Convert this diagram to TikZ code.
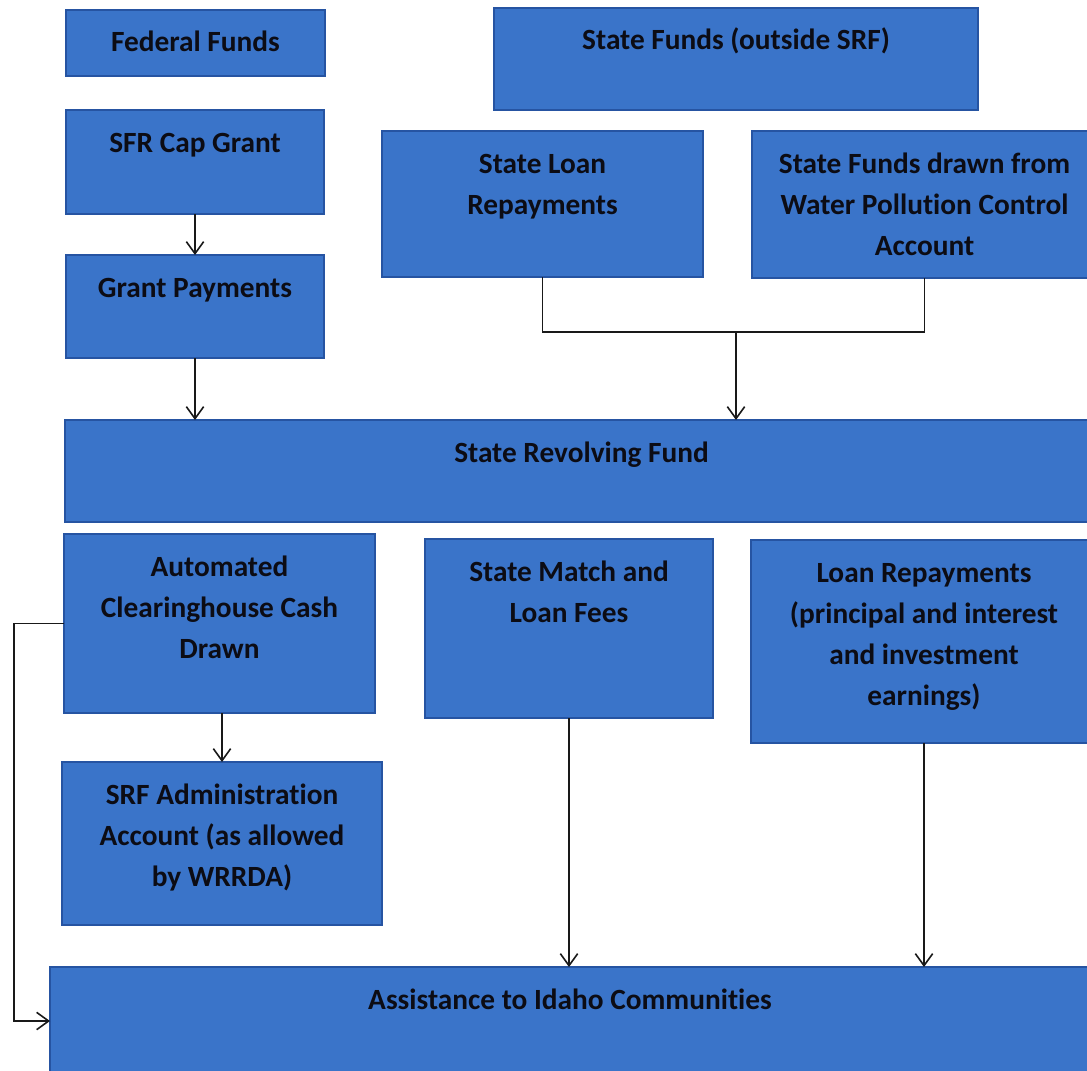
\documentclass[tikz,border=0pt]{standalone}
\usepackage{fontspec}
\setmainfont[Ligatures=NoCommon]{Carlito}
\usetikzlibrary{arrows.meta,fit,calc}
\definecolor{boxfill}{RGB}{58,116,201}
\definecolor{boxline}{RGB}{38,84,162}
\definecolor{txtcol}{RGB}{12,12,20}
\tikzset{
  fundbox/.style={fit={#1}, inner sep=0pt, outer sep=0pt, fill=boxfill, draw=boxline, line width=1.6pt},
  txt/.style={inner sep=0pt, anchor=base, text=txtcol, font=\fontsize{22}{30.75}\selectfont\bfseries},
  conn/.style={draw=black!90, line width=1.2pt},
  arr/.style={conn, -{Straight Barb[length=9pt,width=13pt,line width=1.2pt]}}
}
\newcommand{\lines}[1]{\parbox[t]{12cm}{\centering #1}}
\begin{document}
\begin{tikzpicture}[x=0.75pt,y=-0.75pt]
\useasboundingbox (0,0) rectangle (1087,1070);
\clip (0,0) rectangle (1087,1070);
\fill[white] (0,0) rectangle (1087,1070);
% boxes
\node[fundbox={(66,10)(325,76)}] (ff) {};
\node[fundbox={(66,110)(324,214)}] (cap) {};
\node[fundbox={(66,255)(324,358)}] (gp) {};
\node[fundbox={(494,8)(978,110)}] (sfo) {};
\node[fundbox={(382,131)(703,277)}] (slr) {};
\node[fundbox={(752,131)(1097,278)}] (sfd) {};
\node[fundbox={(65,420)(1098,522)}] (srf) {};
\node[fundbox={(64,534)(375,713)}] (ach) {};
\node[fundbox={(425,539)(713,718)}] (smf) {};
\node[fundbox={(751,540)(1097,743)}] (lr) {};
\node[fundbox={(62,762)(382,925)}] (adm) {};
\node[fundbox={(50,967)(1090,1075)}] (ass) {};
% texts
\node[txt] (ff-t) at ($(ff.north)+(0,42)$) {\lines{Federal Funds}};
\node[txt] (cap-t) at ($(cap.north)+(0,42)$) {\lines{SFR Cap Grant}};
\node[txt] (gp-t) at ($(gp.north)+(0,42)$) {\lines{Grant Payments}};
\node[txt] (sfo-t) at ($(sfo.north)+(0,42)$) {\lines{State Funds (outside SRF)}};
\node[txt] (slr-t) at ($(slr.north)+(0,42)$) {\lines{State Loan\\Repayments}};
\node[txt] (sfd-t) at ($(sfd.north)+(0,42)$) {\lines{State Funds drawn from\\Water Pollution Control\\Account}};
\node[txt] (srf-t) at ($(srf.north)+(0,42)$) {\lines{State Revolving Fund}};
\node[txt] (ach-t) at ($(ach.north)+(0,42)$) {\lines{Automated\\Clearinghouse Cash\\Drawn}};
\node[txt] (smf-t) at ($(smf.north)+(0,42)$) {\lines{State Match and\\Loan Fees}};
\node[txt] (lr-t) at ($(lr.north)+(0,42)$) {\lines{Loan Repayments\\(principal and interest\\and investment\\earnings)}};
\node[txt] (adm-t) at ($(adm.north)+(0,42)$) {\lines{SRF Administration\\Account (as allowed\\by WRRDA)}};
\node[txt] (ass-t) at ($(ass.north)+(0,42)$) {\lines{Assistance to Idaho Communities}};
% connectors
\draw[arr] (cap.south) -- (gp.north);
\draw[arr] (gp.south) -- (gp.south |- srf.north);
\coordinate (join) at (736,332);
\draw[conn] (slr.south) |- (join) -| (sfd.south);
\draw[arr] (join) -- (join |- srf.north);
\draw[arr] (adm.north |- ach.south) -- (adm.north);
\coordinate (leftc) at ($(ach.west)+(-50,0)$);
\draw[arr] (ach.west) -- (leftc) |- (ass.west);
\draw[arr] (smf.south) -- (smf.south |- ass.north);
\draw[arr] (lr.south) -- (lr.south |- ass.north);
\end{tikzpicture}
\end{document}
